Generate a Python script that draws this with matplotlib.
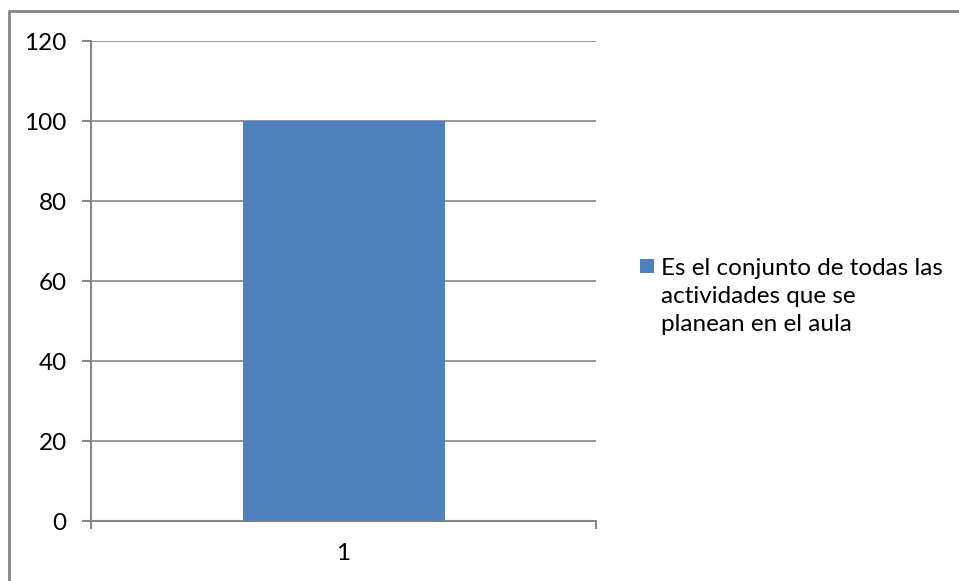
import matplotlib.pyplot as plt
from matplotlib.patches import Rectangle

categories = ["1"]
values = [100]
series_label = "Es el conjunto de todas las\nactividades que se\nplanean en el aula"
yticks = [0, 20, 40, 60, 80, 100, 120]

W, H = 959, 581
bar_color = "#4F81BD"
line_gray = "#868686"
FS = 17.5

plt.rcParams["font.family"] = ["Lato", "DejaVu Sans"]

fig = plt.figure(figsize=(W / 100, H / 100), dpi=100)
ax = fig.add_axes([91 / W, 1 - 521 / H, (596 - 91) / W, (521 - 41) / H])


def px(x, y):
    # pixel position (from top-left) -> figure fraction
    return x / W, 1 - y / H


# chart frame around the whole figure
fig.patches.append(Rectangle((9 / W, -0.1), 1.2, 1 - 10.5 / H + 0.1,
                             transform=fig.transFigure, fill=False,
                             edgecolor=line_gray, linewidth=2))

x = range(len(categories))
ax.bar(x, values, width=0.4, color=bar_color, zorder=3)
ax.set_xlim(-0.5, len(categories) - 0.5)
ax.set_ylim(0, 120)
ax.set_yticks(yticks)
ax.set_xticks(x)
ax.set_xticklabels(categories)
ax.set_xticks([-0.5, len(categories) - 0.5], minor=True)

ax.grid(axis="y", color=line_gray, linewidth=1.2, zorder=0)
for side in ("top", "right"):
    ax.spines[side].set_visible(False)
for side in ("left", "bottom"):
    ax.spines[side].set_color(line_gray)
    ax.spines[side].set_linewidth(1.5)

ax.tick_params(axis="y", length=6.5, width=1.5, color=line_gray, labelsize=FS, pad=11)
ax.tick_params(axis="x", which="major", length=0, labelsize=FS, pad=16)
ax.tick_params(axis="x", which="minor", length=6, width=1.5, color=line_gray)

# legend: colour square plus the wrapped series name
sx, sy = px(640, 273)
fig.patches.append(Rectangle((sx, sy), 14 / W, 14 / H, transform=fig.transFigure,
                             facecolor=bar_color, edgecolor="none"))
for i, line in enumerate(series_label.split("\n")):
    tx, ty = px(661, 275 + 28 * i)
    fig.text(tx, ty, line, fontsize=FS, va="baseline", ha="left")

fig.savefig("out.png", dpi=100)
